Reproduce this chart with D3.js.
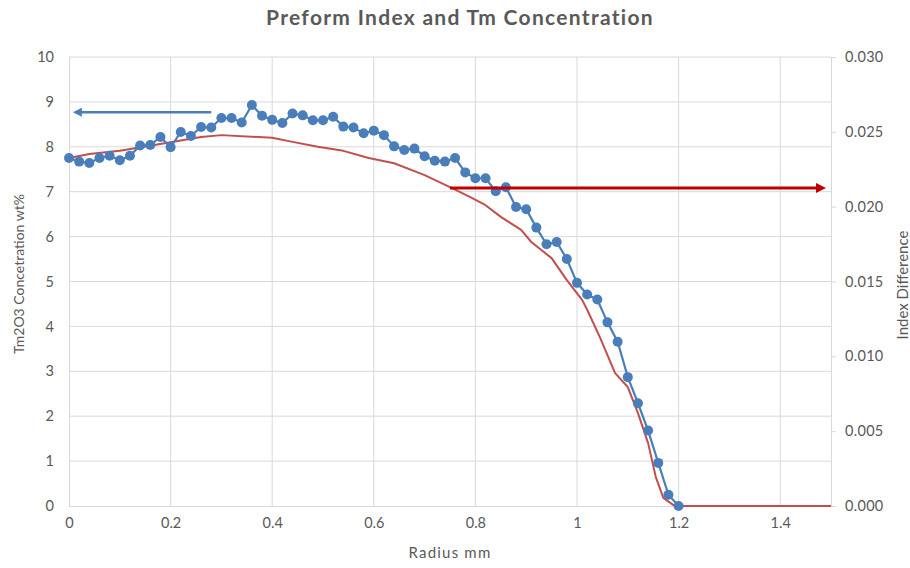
<!DOCTYPE html>
<html>
<head>
<meta charset="utf-8">
<script src="https://cdn.jsdelivr.net/npm/d3@7"></script>
<style>
  html, body { margin: 0; padding: 0; background: #fff; }
  svg { display: block; }
  text { font-family: Lato, "Open Sans", sans-serif; fill: #595959; }
</style>
</head>
<body>
<svg id="chart" width="910" height="568"></svg>
<script>
// Tm2O3 concentration (wt%) measured every 0.02 mm of radius
const tmRadius = d3.range(61).map(i => +(i * 0.02).toFixed(2));
const tmConc = [
  7.75, 7.67, 7.64, 7.75, 7.80, 7.70, 7.80, 8.03, 8.04, 8.22,
  7.99, 8.33, 8.24, 8.44, 8.43, 8.64, 8.64, 8.54, 8.93, 8.69,
  8.60, 8.53, 8.74, 8.70, 8.59, 8.59, 8.67, 8.45, 8.43, 8.30,
  8.36, 8.26, 8.01, 7.93, 7.96, 7.79, 7.69, 7.67, 7.75, 7.43,
  7.30, 7.30, 7.01, 7.10, 6.66, 6.61, 6.20, 5.83, 5.88, 5.50,
  4.97, 4.71, 4.60, 4.09, 3.66, 2.87, 2.29, 1.68, 0.96, 0.25,
  0.00
];

// Preform refractive index difference profile
const idxRadius = [
  0, 0.04, 0.10, 0.20, 0.26, 0.30, 0.40, 0.44, 0.49, 0.54,
  0.59, 0.64, 0.70, 0.75, 0.79, 0.82, 0.85, 0.89, 0.91, 0.95,
  0.98, 1.01, 1.02, 1.045, 1.075, 1.10, 1.12, 1.14, 1.155, 1.17,
  1.19, 1.20, 1.30, 1.40, 1.50
];
const idxDiff = [
  0.02325, 0.02352, 0.02373, 0.02430, 0.02466, 0.02478, 0.02460, 0.02433, 0.02400, 0.02373,
  0.02325, 0.02290, 0.02211, 0.02130, 0.02064, 0.02010, 0.01932, 0.01845, 0.01764, 0.01656,
  0.01509, 0.01377, 0.01311, 0.01128, 0.00888, 0.00795, 0.00621, 0.00420, 0.00195, 0.00054,
  0.00006, 0, 0, 0, 0
];

// Axis ticks
const xTicks = [0, 0.2, 0.4, 0.6, 0.8, 1, 1.2, 1.4];
const yLeftTicks = [0, 1, 2, 3, 4, 5, 6, 7, 8, 9, 10];
const yRightTicks = [0, 0.005, 0.010, 0.015, 0.020, 0.025, 0.030];

// Annotation arrows pointing to each series' axis
const concArrow = { from: 0.28, to: 0.0, level: 8.77 };
const idxArrow = { from: 0.75, to: 1.5, level: 0.02125 };

const svg = d3.select("#chart");
const m = { left: 69, right: 831, top: 57, bottom: 506 };

const x = d3.scaleLinear().domain([0, 1.5]).range([m.left, m.right]);
const yL = d3.scaleLinear().domain([0, 10]).range([m.bottom, m.top]);
const yR = d3.scaleLinear().domain([0, 0.03]).range([m.bottom, m.top]);

const grid = "#d9d9d9";
const tickFont = 14.5;

// Gridlines
svg.append("g").selectAll("line.h").data(yLeftTicks.filter(d => d > 0)).join("line")
  .attr("x1", m.left).attr("x2", m.right)
  .attr("y1", d => yL(d)).attr("y2", d => yL(d))
  .attr("stroke", grid).attr("stroke-width", 1);
svg.append("g").selectAll("line.v").data(xTicks.filter(d => d > 0)).join("line")
  .attr("x1", d => x(d)).attr("x2", d => x(d))
  .attr("y1", m.top).attr("y2", m.bottom)
  .attr("stroke", grid).attr("stroke-width", 1);

// Bottom axis
const xAxis = svg.append("g").attr("transform", `translate(0,${m.bottom})`)
  .call(d3.axisBottom(x).tickValues(xTicks).tickSize(0).tickPadding(12)
    .tickFormat(d => d3.format("~g")(d)));
xAxis.select(".domain").attr("stroke", grid);
xAxis.selectAll("text").attr("font-size", tickFont).attr("fill", "#595959");

// Left axis
const yAxisL = svg.append("g").attr("transform", `translate(${m.left},0)`)
  .call(d3.axisLeft(yL).tickValues(yLeftTicks).tickSize(0).tickPadding(15));
yAxisL.select(".domain").attr("stroke", grid);
yAxisL.selectAll("text").attr("font-size", tickFont).attr("fill", "#595959");

// Right axis
const yAxisR = svg.append("g").attr("transform", `translate(${m.right},0)`)
  .call(d3.axisRight(yR).tickValues(yRightTicks).tickSize(5).tickPadding(9)
    .tickFormat(d3.format(".3f")));
yAxisR.select(".domain").attr("stroke", grid);
yAxisR.selectAll("line").attr("stroke", grid);
yAxisR.selectAll("text").attr("font-size", tickFont).attr("fill", "#595959")
  .attr("letter-spacing", 0.3);

// Index difference curve
svg.append("path")
  .datum(idxRadius.map((r, i) => [r, idxDiff[i]]))
  .attr("fill", "none")
  .attr("stroke", "#c0504d")
  .attr("stroke-width", 2)
  .attr("stroke-linejoin", "round")
  .attr("d", d3.line().x(d => x(d[0])).y(d => yR(d[1])));

// Concentration line and markers
const concPts = tmRadius.map((r, i) => [r, tmConc[i]]);
svg.append("path")
  .datum(concPts)
  .attr("fill", "none")
  .attr("stroke", "#4a7ebb")
  .attr("stroke-width", 2.2)
  .attr("d", d3.line().x(d => x(d[0])).y(d => yL(d[1])));
svg.append("g").selectAll("circle").data(concPts).join("circle")
  .attr("cx", d => x(d[0])).attr("cy", d => yL(d[1]))
  .attr("r", 5).attr("fill", "#4a7ebb");

// Arrows
const defs = svg.append("defs");
function marker(id, color, w, h) {
  defs.append("marker").attr("id", id)
    .attr("viewBox", "0 0 10 10").attr("refX", 1).attr("refY", 5)
    .attr("markerUnits", "userSpaceOnUse")
    .attr("markerWidth", w).attr("markerHeight", h)
    .attr("orient", "auto")
    .append("path").attr("d", "M0,0 L10,5 L0,10 Z").attr("fill", color);
}
marker("headBlue", "#4a7ebb", 10, 9);
marker("headRed", "#c00000", 11, 10);

svg.append("line")
  .attr("x1", x(concArrow.from)).attr("x2", x(concArrow.to) + 12)
  .attr("y1", yL(concArrow.level)).attr("y2", yL(concArrow.level))
  .attr("stroke", "#4a7ebb").attr("stroke-width", 2.5)
  .attr("marker-end", "url(#headBlue)");

svg.append("line")
  .attr("x1", x(idxArrow.from)).attr("x2", x(idxArrow.to) - 14)
  .attr("y1", yR(idxArrow.level)).attr("y2", yR(idxArrow.level))
  .attr("stroke", "#c00000").attr("stroke-width", 3)
  .attr("marker-end", "url(#headRed)");

// Titles
svg.append("text")
  .attr("x", 460).attr("y", 25)
  .attr("text-anchor", "middle")
  .attr("font-size", 21).attr("font-weight", "bold")
  .attr("letter-spacing", 1.3)
  .text("Preform Index and Tm Concentration");

svg.append("text")
  .attr("x", 450).attr("y", 558)
  .attr("text-anchor", "middle")
  .attr("font-size", 15).attr("letter-spacing", 1.2)
  .text("Radius  mm");

svg.append("text")
  .attr("transform", `translate(24,274) rotate(-90)`)
  .attr("text-anchor", "middle")
  .attr("font-size", 14)
  .text("Tm2O3 Concetration  wt%");

svg.append("text")
  .attr("transform", `translate(908,285) rotate(-90)`)
  .attr("text-anchor", "middle")
  .attr("font-size", 15)
  .text("Index Difference");
</script>
</body>
</html>
